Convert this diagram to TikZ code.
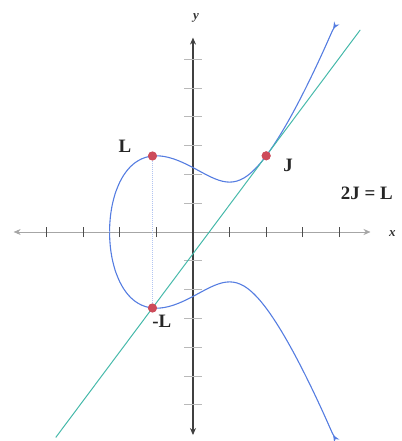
\documentclass[tikz,border=0pt]{standalone}
\usepackage{fontspec}
\setmainfont{Liberation Serif}
\usepackage{tikz}
\usetikzlibrary{arrows.meta}
\definecolor{curveblue}{RGB}{85,125,225}
\definecolor{tanteal}{RGB}{70,185,170}
\definecolor{ptred}{RGB}{205,75,90}
\tikzset{
  xaxisline/.style={<->, >={Stealth[length=7pt,width=6pt]}, gray!70, line width=0.6pt},
  yaxisline/.style={<->, >={Stealth[length=7pt,width=6pt]}, black!75, line width=1.4pt},
  xtickmark/.style={black!70, line width=1.2pt},
  ytickmark/.style={gray!55, line width=1pt},
  curve/.style={-{Stealth[length=7pt,width=6pt]}, curveblue, line width=1.1pt},
  tangentline/.style={tanteal, line width=1pt},
  dropline/.style={curveblue!45, densely dotted, line width=1pt},
  pt/.style={circle, fill=ptred, inner sep=0pt, minimum size=9pt},
  lbl/.style={font=\fontsize{19}{22}\selectfont\bfseries, text=black!85},
  axlbl/.style={font=\fontsize{13}{15}\selectfont\bfseries\itshape, text=black!80},
}
\begin{document}
\begin{tikzpicture}[x=36.6bp, y=28.8bp]
\useasboundingbox (-5.273,-7.257) rectangle (5.710,8.056);

% axes
\coordinate (xl) at (-4.9,0);
\coordinate (xr) at (4.85,0);
\coordinate (yb) at (0,-7.05);
\coordinate (yt) at (0,6.75);
\draw[xaxisline] (xl) -- (xr);
\draw[yaxisline] (yb) -- (yt);
\foreach \i in {-4,...,-1,1,2,3,4}
  \draw[xtickmark] (\i,-0.18) -- (\i,0.18);
\foreach \j in {-6,...,-1,1,2,...,6}
  \draw[ytickmark] (-0.24,\j) -- (0.24,\j);
\node[axlbl] (xlab) at (5.45,-0.05) {x};
\node[axlbl] (ylab) at (0.08,7.45) {y};

% points on the curve
\node[pt] (L) at (-1.107,2.639) {};
\node[pt] (mL) at (-1.107,-2.639) {};
\node[pt] (J) at (2,2.6458) {};

\draw[dropline] (L) -- (mL);

% y^2 = x^3 - 3x + 5
\draw[curve] plot[smooth, samples at={-2.279,-2.2785,-2.277,-2.274,-2.27,-2.26,-2.245,-2.225,-2.2,-2.15,-2.1,-2.0,-1.9,...,3.7,3.8,3.83}]
  (\x,{sqrt(max(\x*\x*\x-3*\x+5,0))});
\draw[curve] plot[smooth, samples at={-2.279,-2.2785,-2.277,-2.274,-2.27,-2.26,-2.245,-2.225,-2.2,-2.15,-2.1,-2.0,-1.9,...,3.7,3.8,3.83}]
  (\x,{-sqrt(max(\x*\x*\x-3*\x+5,0))});

% tangent at J
\coordinate (tA) at (-3.75,-7.134);
\coordinate (tB) at (4.57,7.017);
\draw[tangentline] (tA) -- (J) -- (tB);

% redraw points on top
\node[pt] at (L) {};
\node[pt] at (mL) {};
\node[pt] at (J) {};

% labels
\node[lbl] (Llab) at (-1.86,2.98) {L};
\node[lbl] (Jlab) at (2.6,2.3) {J};
\node[lbl] (mLlab) at (-0.85,-3.1) {-L};
\node[lbl] (rel) at (4.75,1.35) {2J = L};

\end{tikzpicture}
\end{document}
